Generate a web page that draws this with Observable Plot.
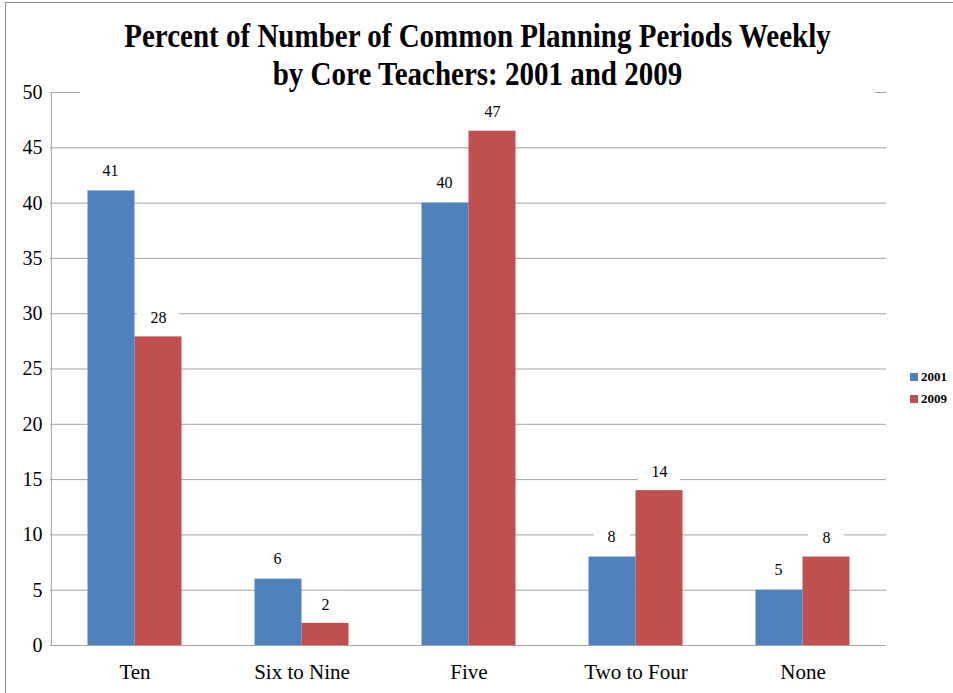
<!DOCTYPE html>
<html>
<head>
<meta charset="utf-8">
<script src="https://cdn.jsdelivr.net/npm/d3@7"></script>
<script src="https://cdn.jsdelivr.net/npm/@observablehq/plot@0.6"></script>
<style>
  html, body { margin: 0; padding: 0; background: #fff; }
  #wrap { position: relative; width: 953px; height: 693px; overflow: hidden; font-family: "Liberation Serif", "Times New Roman", "DejaVu Serif", serif; }
  #frame { position: absolute; left: 5px; top: 2px; width: 960px; height: 700px; border-left: 1.5px solid #8c8c8c; border-top: 1.5px solid #8c8c8c; box-sizing: border-box; pointer-events: none; }
  #title { position: absolute; left: 80px; width: 795px; top: 14px; height: 80px; background: #fff; text-align: center; }
  #title div { font-family: "Liberation Serif", "Times New Roman", serif; font-weight: bold; font-size: 29px; line-height: 34px; color: #000; transform: scaleY(1.13); transform-origin: 50% 0; padding-top: 2px; }
  #legend { position: absolute; left: 910px; top: 366px; font-size: 13px; font-weight: bold; color: #000; }
  #legend div { display: flex; align-items: center; height: 22px; }
  #legend span.sw { display: inline-block; width: 8px; height: 8px; margin-right: 3px; }
  #chart { position: absolute; left: 0; top: 0; }
</style>
</head>
<body>
<div id="wrap">
  <div id="chart"></div>
  <div id="title"><div>Percent of Number of Common Planning Periods Weekly<br>by Core Teachers: 2001 and 2009</div></div>
  <div id="legend"></div>
  <div id="frame"></div>
</div>
<script>
const categories = ["Ten", "Six to Nine", "Five", "Two to Four", "None"];
const seriesNames = ["2001", "2009"];
const values2001 = [41.1, 6.0, 40.0, 8.0, 5.0];
const values2009 = [27.9, 2.0, 46.5, 14.0, 8.0];
const labels2001 = ["41", "6", "40", "8", "5"];
const labels2009 = ["28", "2", "47", "14", "8"];
const yTicks = [0, 5, 10, 15, 20, 25, 30, 35, 40, 45, 50];
const colors = ["#4F81BD", "#C0504D"];

const FONT = "'Liberation Serif', 'Times New Roman', serif";
const W = 953, H = 693;
const mL = 50, mR = 67, mT = 92, mB = 48;
const step = (W - mL - mR) / categories.length;
const barW = 47;
const pInner = 1 - barW / step;

const d2001 = categories.map((c, i) => ({cat: c, v: values2001[i], label: labels2001[i]}));
const d2009 = categories.map((c, i) => ({cat: c, v: values2009[i], label: labels2009[i]}));

function boxes(data, dx) {
  const one = data.filter(d => d.label.length === 1);
  const two = data.filter(d => d.label.length > 1);
  const opt = (inset) => ({x: "cat", y1: "v", y2: "v", dx, fill: "white", insetTop: -32, insetBottom: 6, insetLeft: inset, insetRight: inset});
  return [Plot.barY(one, opt(5.5)), Plot.barY(two, opt(2.5))];
}

const chart = Plot.plot({
  width: W, height: H,
  marginLeft: mL, marginRight: mR, marginTop: mT, marginBottom: mB,
  style: {fontFamily: FONT, background: "transparent", color: "#000"},
  x: {domain: categories, paddingInner: pInner, paddingOuter: pInner / 2, axis: null},
  y: {domain: [0, 50], axis: null},
  marks: [
    Plot.gridY(yTicks, {stroke: "#a3a3a3", strokeOpacity: 1, strokeWidth: 1}),
    Plot.ruleX([categories[0]], {dx: -step / 2, y1: 0, y2: 50, stroke: "#a3a3a3", strokeWidth: 1}),
    Plot.barY(d2001, {x: "cat", y: "v", dx: -barW / 2, fill: colors[0]}),
    Plot.barY(d2009, {x: "cat", y: "v", dx: barW / 2, fill: colors[1]}),
    ...boxes(d2001, -barW / 2),
    ...boxes(d2009, barW / 2),
    Plot.text(d2001, {x: "cat", y: "v", text: "label", dx: -barW / 2 - 1, dy: -20, fontSize: 16, fontFamily: FONT, fill: "#000"}),
    Plot.text(d2009, {x: "cat", y: "v", text: "label", dx: barW / 2, dy: -19, fontSize: 16, fontFamily: FONT, fill: "#000"}),
    Plot.axisY(yTicks, {tickSize: 0, tickPadding: 8, fontSize: 20, fontFamily: FONT, fill: "#000", label: null}),
    Plot.axisX({tickSize: 0, tickPadding: 19, fontSize: 21, fontFamily: FONT, fill: "#000", label: null})
  ]
});
document.getElementById("chart").appendChild(chart);

const legend = document.getElementById("legend");
seriesNames.forEach((s, i) => {
  const row = document.createElement("div");
  const sw = document.createElement("span");
  sw.className = "sw";
  sw.style.background = colors[i];
  row.appendChild(sw);
  row.appendChild(document.createTextNode(s));
  legend.appendChild(row);
});
</script>
</body>
</html>
